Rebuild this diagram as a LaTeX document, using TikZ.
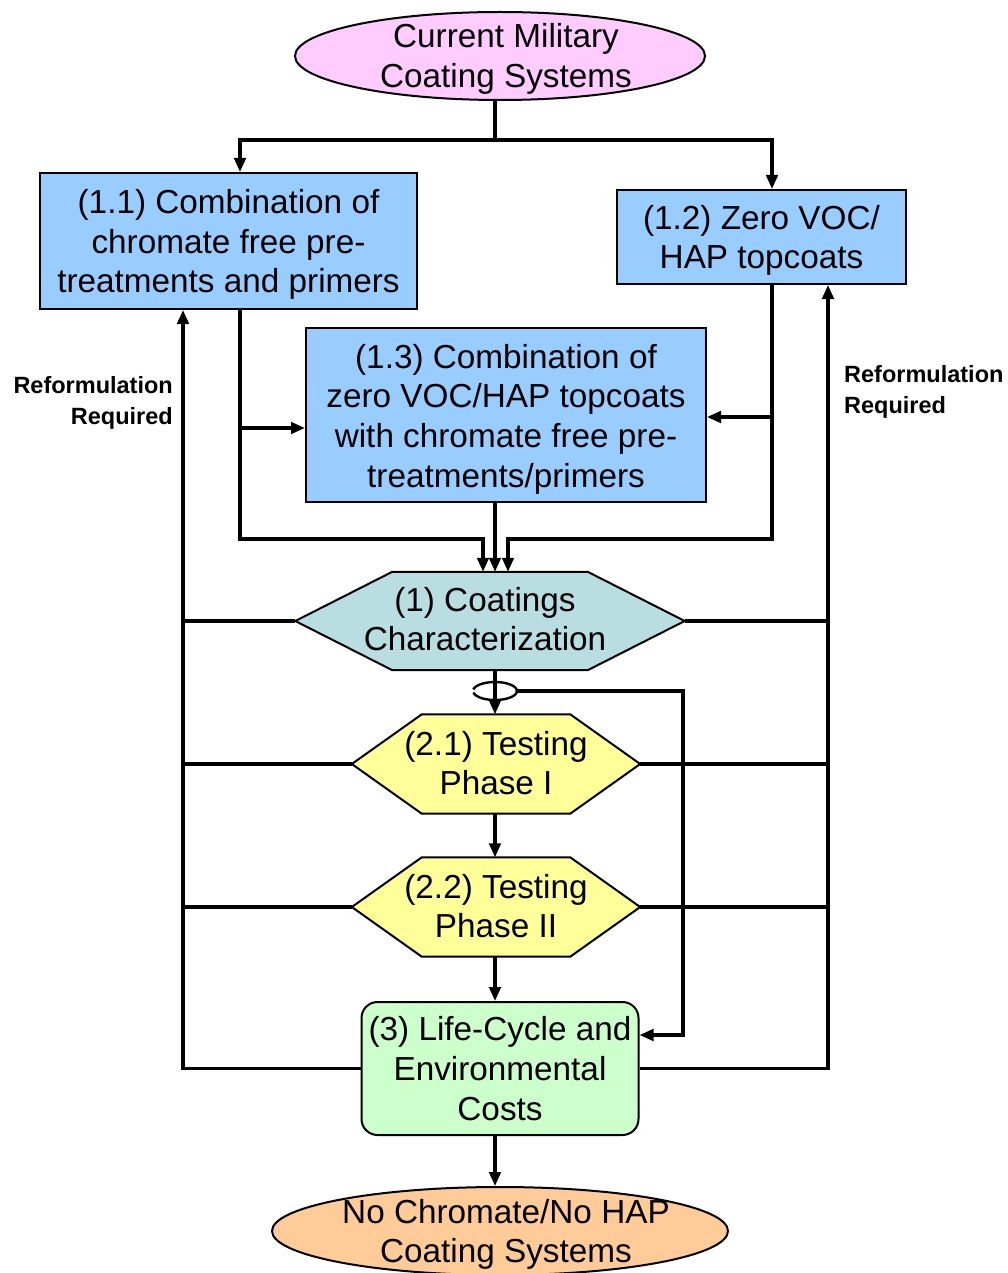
\documentclass[tikz,border=0pt]{standalone}
\usepackage{fontspec}
\setmainfont{Liberation Sans}
\usetikzlibrary{arrows.meta,calc,backgrounds,shapes.geometric}
\definecolor{cpink}{HTML}{FFCCFF}
\definecolor{cblue}{HTML}{99CCFF}
\definecolor{cteal}{HTML}{B8DEE2}
\definecolor{cyell}{HTML}{FFFF99}
\definecolor{cgreen}{HTML}{CCFFCC}
\definecolor{corange}{HTML}{FFCC99}
\begin{document}
\begin{tikzpicture}[x=1pt,y=-1pt,
  conn/.style={line width=3.2pt},
  arr/.style={conn,-{Triangle[length=14pt,width=11.5pt]}},
  txt/.style={font=\fontsize{33.3}{39.7}\selectfont, align=center, inner sep=0pt},
  boxs/.style={draw, line width=2pt, rectangle, inner sep=0pt},
  ells/.style={draw, line width=2pt, ellipse, inner sep=0pt},
  hexs/.style={rectangle, inner sep=0pt},
  hexline/.style={draw, line width=2pt},
  lab/.style={font=\bfseries\fontsize{23.5}{31}\selectfont, inner sep=0pt}
]
\useasboundingbox (0,0) rectangle (1008,1273);

% shapes (borders)
\node[ells, fill=cpink, minimum width=410, minimum height=88] (top) at (500,56) {};
\node[boxs, fill=cblue, minimum width=377, minimum height=136] (b11) at (228.5,241) {};
\node[boxs, fill=cblue, minimum width=289, minimum height=94] (b12) at (761.5,237) {};
\node[boxs, fill=cblue, minimum width=400, minimum height=174] (b13) at (506,415) {};
\node[hexs, minimum width=389, minimum height=98] (h1) at (490,621) {};
\node[hexs, minimum width=288, minimum height=99] (h21) at (496,764) {};
\node[hexs, minimum width=288, minimum height=99] (h22) at (496,907) {};
\node[boxs, fill=cgreen, rounded corners=16pt, minimum width=277, minimum height=133] (b3) at (500,1068.5) {};
\node[ells, fill=corange, minimum width=456, minimum height=88] (bot) at (500,1231) {};

% hexagon outlines and white page
\begin{scope}[on background layer]
\fill[white] (0,0) rectangle (1008,1273);
\draw[hexline, fill=cteal] (h1.west) -- ($(h1.north west)+(97,0)$) -- ($(h1.north east)+(-97,0)$)
  -- (h1.east) -- ($(h1.south east)+(-97,0)$) -- ($(h1.south west)+(97,0)$) -- cycle;
\draw[hexline, fill=cyell] (h21.west) -- ($(h21.north west)+(70,0)$) -- ($(h21.north east)+(-70,0)$)
  -- (h21.east) -- ($(h21.south east)+(-70,0)$) -- ($(h21.south west)+(70,0)$) -- cycle;
\draw[hexline, fill=cyell] (h22.west) -- ($(h22.north west)+(70,0)$) -- ($(h22.north east)+(-70,0)$)
  -- (h22.east) -- ($(h22.south east)+(-70,0)$) -- ($(h22.south west)+(70,0)$) -- cycle;
\end{scope}

% texts
\node[txt] (topt) at ($(top.center)+(6,3)$) {Current Military\\Coating Systems};
\node[txt] (b11t) at ($(b11.center)+(0,3.5)$) {(1.1) Combination of\\chromate free pre-\\treatments and primers};
\node[txt] (b12t) at ($(b12.center)+(0,3.5)$) {(1.2) Zero VOC/\\HAP topcoats};
\node[txt] (b13t) at ($(b13.center)+(0,4)$) {(1.3) Combination of\\zero VOC/HAP topcoats\\with chromate free pre-\\treatments/primers};
\node[txt] (h1t) at ($(h1.center)+(-5,-2)$) {(1) Coatings\\Characterization};
\node[txt] (h21t) at ($(h21.center)+(0,-1)$) {(2.1) Testing\\Phase I};
\node[txt] (h22t) at ($(h22.center)+(0,-1)$) {(2.2) Testing\\Phase II};
\node[txt] (b3t) at (b3.center) {(3) Life-Cycle and\\Environmental\\Costs};
\node[txt] (bott) at ($(bot.center)+(6,3.5)$) {No Chromate/No HAP\\Coating Systems};

\node[lab, anchor=east, align=right] (lbl1) at (173,403) {Reformulation\\Required};
\node[lab, anchor=west, align=left] (lbl2) at (844,392) {Reformulation\\Required};

% coordinates
\coordinate (j0) at (495,140);
\coordinate (xa) at (240,0);
\coordinate (xb) at (772,0);
\coordinate (xL) at (183,0);
\coordinate (xR) at (828,0);
\coordinate (xc) at (495,0);
\coordinate (m1) at (483,539);
\coordinate (m2) at (508,539);
\coordinate (ya) at (0,428);
\coordinate (yb) at (0,417);
\coordinate (lc) at (495,691);
\coordinate (lr) at (517,691);
\coordinate (q) at (683,691);
\coordinate (yq) at (0,1035);

% top split
\draw[conn] (j0 |- top.south) -- (j0);
\draw[arr] (j0) -| (xa |- b11.north);
\draw[arr] (j0) -| (xb |- b12.north);

% into 1.3 and hexagon 1
\draw[arr] (xa |- b11.south) |- (m1) -- (m1 |- h1.north);
\draw[arr] (xa |- ya) -- (b13.west |- ya);
\draw[arr] (xb |- b12.south) |- (m2) -- (m2 |- h1.north);
\draw[arr] (xb |- yb) -- (b13.east |- yb);
\draw[arr] (xc |- b13.south) -- (xc |- h1.north);

% main column
\draw[arr] (xc |- h1.south) -- (xc |- h21.north);
\draw[arr] (xc |- h21.south) -- (xc |- h22.north);
\draw[arr] (xc |- h22.south) -- (xc |- b3.north);
\draw[arr] (xc |- b3.south) -- (xc |- bot.north);

% loop bypass
\draw[line width=2.4pt] (lc) ++(190:22 and 9) arc[start angle=190, end angle=530, x radius=22, y radius=9];
\draw[arr] (lr) -- (q) |- (b3.east |- yq);

% feedback lines
\draw[arr] (b3.west) -| (xL |- b11.south);
\draw[arr] (b3.east) -| (xR |- b12.south);
\draw[conn] (h1.west) -- (h1.west -| xL);
\draw[conn] (h1.east) -- (h1.east -| xR);
\draw[conn] (h21.west) -- (h21.west -| xL);
\draw[conn] (h21.east) -- (h21.east -| xR);
\draw[conn] (h22.west) -- (h22.west -| xL);
\draw[conn] (h22.east) -- (h22.east -| xR);
\end{tikzpicture}
\end{document}
